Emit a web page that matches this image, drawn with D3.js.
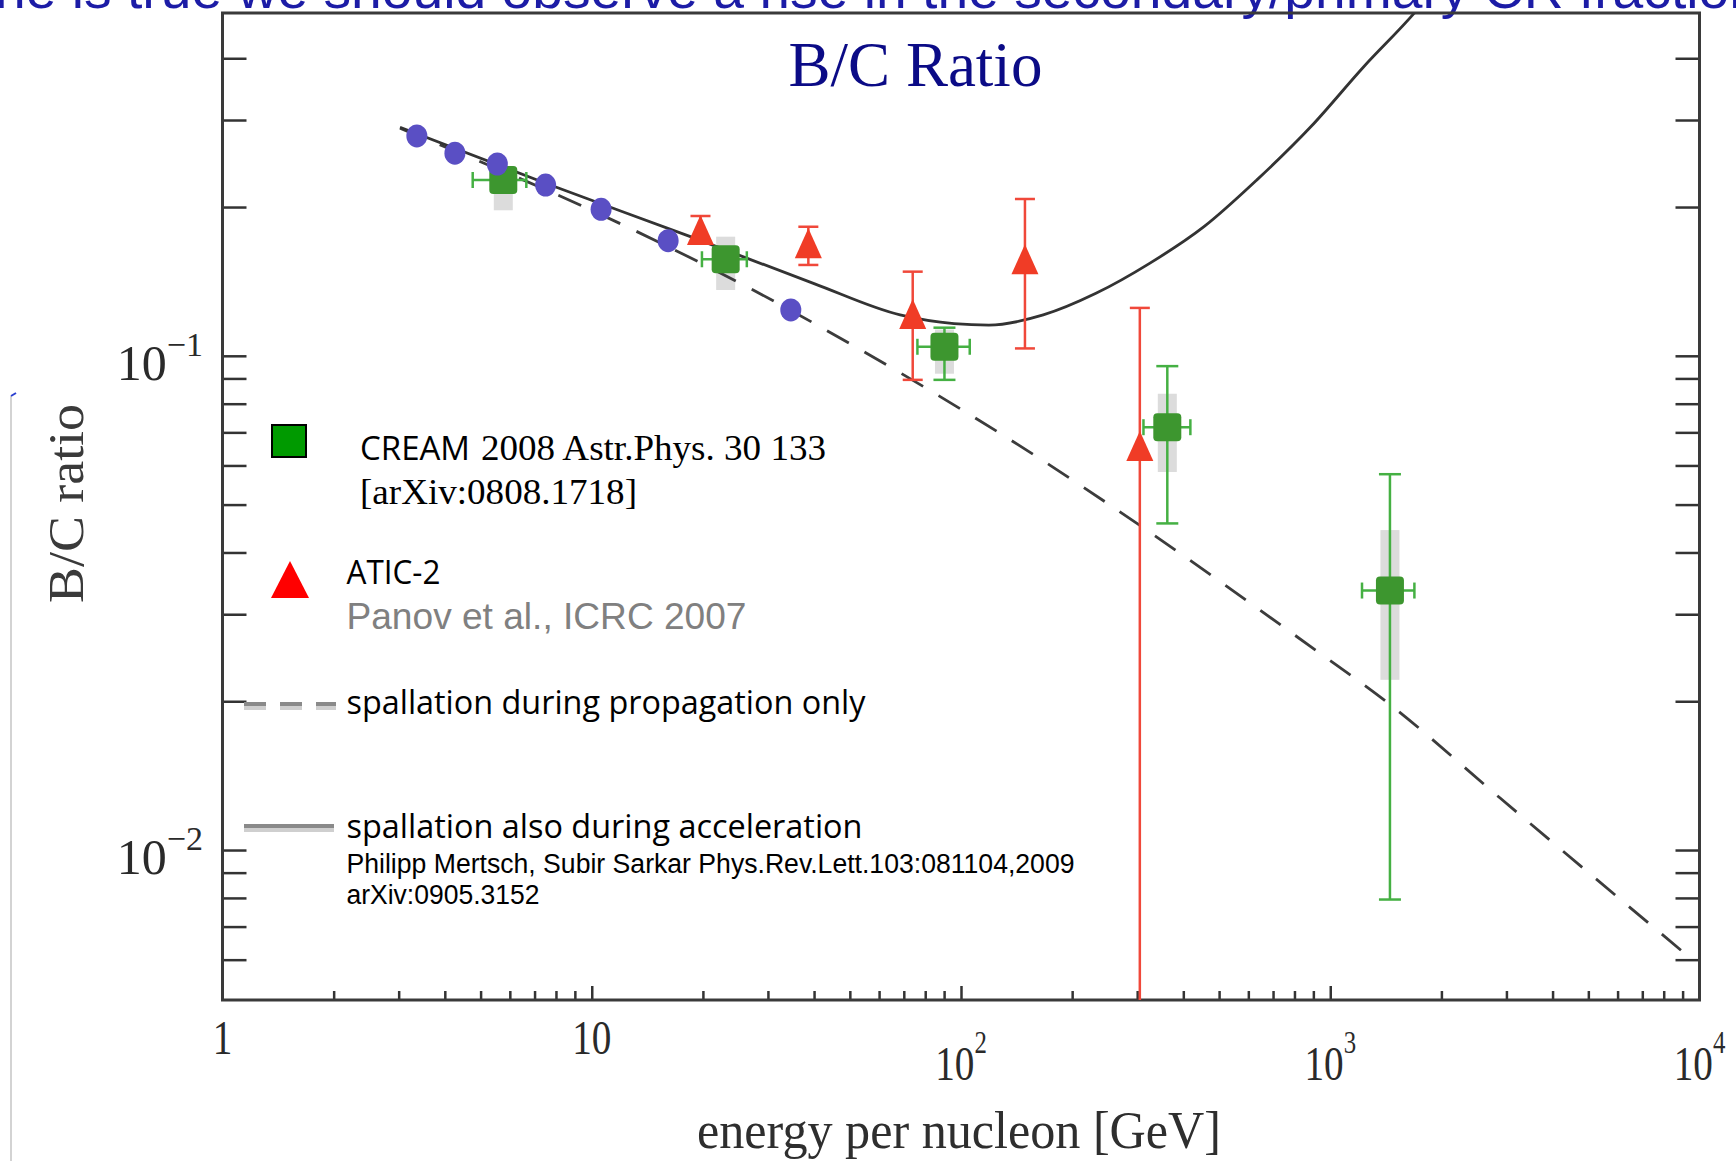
<!DOCTYPE html>
<html lang="en">
  <head>
    <meta charset="utf-8" />
    <title>B/C Ratio</title>
    <script type="text/javascript" src="https://d3js.org/d3.v7.min.js"></script>
    <style type="text/css">
      body { margin: 0; background: #fff; }
      svg { display: block; }
    </style>
  </head>

  <body>
    <script type="text/javascript">
      // blue points (low energy data)
      const blueE = [3.36, 4.26, 5.55, 7.5, 10.6, 16.1, 34.6];
      const blueBC = [0.2785, 0.257, 0.2444, 0.2216, 0.1979, 0.171, 0.1238];

      // CREAM 2008
      const creamE = [5.76, 23.05, 90.2, 362, 1451];
      const creamBC = [0.2269, 0.1568, 0.1043, 0.0717, 0.0335];
      const creamElo = [4.76, 19.88, 76.2, 312, 1219];
      const creamEhi = [6.65, 26.3, 105.6, 418, 1690];
      const creamLo = [0.221, 0.152, 0.0894, 0.0458, 0.00794];
      const creamHi = [0.233, 0.162, 0.114, 0.0953, 0.0576];
      const creamSysLo = [0.197, 0.1359, 0.092, 0.0582, 0.0221];
      const creamSysHi = [0.237, 0.1742, 0.113, 0.0838, 0.0444];

      // ATIC-2
      const aticE = [19.7, 38.6, 74, 149, 305];
      const aticBC = [0.1797, 0.169, 0.1215, 0.1568, 0.0657];
      const aticLo = [0.172, 0.1527, 0.0894, 0.1035, 0.001];
      const aticHi = [0.1918, 0.1824, 0.148, 0.2076, 0.125];

      // model curves
      const propE = [3.025, 12.43, 26.3, 55.5, 174, 306, 891, 1451, 2884, 9660];
      const propBC = [0.2886, 0.1825, 0.138, 0.1012, 0.0601, 0.0453, 0.0257, 0.0197, 0.01274, 0.00596];
      const accE = [3.025, 7.5, 18.5, 40, 68.4, 95.7, 119, 167, 232, 325, 455, 633, 887, 1234, 1686, 2200];
      const accBC = [0.29, 0.2234, 0.1742, 0.14, 0.121, 0.1162, 0.1154, 0.121, 0.1338, 0.154, 0.1825, 0.227, 0.291, 0.385, 0.493, 0.63];

      // ticks
      const xMinor = [2, 3, 4, 5, 6, 7, 8, 9, 20, 30, 40, 50, 60, 70, 80, 90, 200, 300, 400, 500, 600, 700, 800, 900, 2000, 3000, 4000, 5000, 6000, 7000, 8000, 9000];
      const xMajor = [10, 100, 1000];
      const yTicks = [0.006, 0.007, 0.008, 0.009, 0.01, 0.02, 0.03, 0.04, 0.05, 0.06, 0.07, 0.08, 0.09, 0.1, 0.2, 0.3, 0.4];
      const xLabelVals = [1, 10, 100, 1000, 10000];
      const xLabelBase = ["1", "10", "10", "10", "10"];
      const xLabelExp = ["", "", "2", "3", "4"];
      const yLabelVals = [0.1, 0.01];
      const yLabelExp = ["\u22121", "\u22122"];

      const W = 1736, H = 1161;
      const pLeft = 222.5, pRight = 1699.5, pTop = 13, pBottom = 1000;

      const svg = d3.select("body").append("svg")
        .attr("width", W).attr("height", H);

      const x = d3.scaleLog().domain([1, 1e4]).range([pLeft, pRight]);
      const y = d3.scaleLog().domain([0.005, 0.49]).range([998.8, 14.7]);

      // slide text cut off at the top
      svg.append("text")
        .attr("x", -5).attr("y", 8)
        .attr("font-family", "Liberation Sans")
        .attr("font-size", 54)
        .attr("fill", "#1c1ca6")
        .attr("textLength", 1765)
        .attr("lengthAdjust", "spacingAndGlyphs")
        .text("ne is true we should observe a rise in the secondary/primary CR fraction");

      // thin slide line at left
      svg.append("line")
        .attr("x1", 11).attr("x2", 11).attr("y1", 396).attr("y2", H)
        .attr("stroke", "#c4c4c4").attr("stroke-width", 1.5);
      svg.append("line")
        .attr("x1", 11).attr("x2", 16).attr("y1", 396).attr("y2", 393)
        .attr("stroke", "#2a3fd0").attr("stroke-width", 2);

      svg.append("clipPath").attr("id", "plot")
        .append("rect")
        .attr("x", pLeft).attr("y", pTop)
        .attr("width", pRight - pLeft).attr("height", pBottom - pTop);

      // axes ticks
      const axG = svg.append("g");

      const bMinor = d3.axisBottom(x).tickValues(xMinor).tickSize(-9).tickFormat("");
      const bMajor = d3.axisBottom(x).tickValues(xMajor).tickSize(-14).tickFormat("");
      const lAx = d3.axisLeft(y).tickValues(yTicks).tickSize(-24).tickFormat("");
      const rAx = d3.axisRight(y).tickValues(yTicks).tickSize(-24).tickFormat("");

      [
        [bMinor, `translate(0,${pBottom})`],
        [bMajor, `translate(0,${pBottom})`],
        [lAx, `translate(${pLeft},0)`],
        [rAx, `translate(${pRight},0)`],
      ].forEach(function (a) {
        const g = axG.append("g").attr("transform", a[1]).call(a[0]);
        g.select(".domain").remove();
        g.selectAll("line").attr("stroke", "#333").attr("stroke-width", 2.5);
      });

      // frame
      svg.append("rect")
        .attr("x", pLeft).attr("y", pTop)
        .attr("width", pRight - pLeft).attr("height", pBottom - pTop)
        .attr("fill", "none")
        .attr("stroke", "#3a3a3a")
        .attr("stroke-width", 3);

      // tick labels
      xLabelVals.forEach(function (v, i) {
        const base = xLabelExp[i] ? 1079.5 : 1054;
        const t = svg.append("text")
          .attr("transform", `translate(${x(v)},${base}) scale(0.8,1)`)
          .attr("text-anchor", "middle")
          .attr("font-family", "Liberation Serif")
          .attr("font-size", 49)
          .attr("fill", "#2a2a2a");
        t.append("tspan").text(xLabelBase[i]);
        if (xLabelExp[i]) {
          t.append("tspan").attr("dy", -27).attr("font-size", 31).text(xLabelExp[i]);
        }
      });

      yLabelVals.forEach(function (v, i) {
        const t = svg.append("text")
          .attr("x", 203).attr("y", y(v) + 24)
          .attr("text-anchor", "end")
          .attr("font-family", "Liberation Serif")
          .attr("font-size", 50)
          .attr("fill", "#2a2a2a");
        t.append("tspan").text("10");
        t.append("tspan").attr("dy", -24).attr("font-size", 34).text(yLabelExp[i]);
      });

      // axis titles
      svg.append("text")
        .attr("transform", "translate(83,503.5) rotate(-90)")
        .attr("text-anchor", "middle")
        .attr("font-family", "Liberation Serif")
        .attr("font-size", 50)
        .attr("fill", "#3a3a3a")
        .attr("textLength", 199)
        .attr("lengthAdjust", "spacingAndGlyphs")
        .text("B/C ratio");

      svg.append("text")
        .attr("x", 959).attr("y", 1148)
        .attr("text-anchor", "middle")
        .attr("font-family", "Liberation Serif")
        .attr("font-size", 52)
        .attr("fill", "#2e2e2e")
        .attr("textLength", 524)
        .attr("lengthAdjust", "spacingAndGlyphs")
        .text("energy per nucleon [GeV]");

      // chart title
      svg.append("text")
        .attr("x", 915.5).attr("y", 86)
        .attr("text-anchor", "middle")
        .attr("font-family", "Liberation Serif")
        .attr("font-size", 63)
        .attr("fill", "#0b0b86")
        .text("B/C Ratio");

      // data layer
      const plot = svg.append("g").attr("clip-path", "url(#plot)");

      // CREAM systematic boxes
      plot.selectAll("rect.sys")
        .data(creamE)
        .enter()
        .append("rect")
        .attr("class", "sys")
        .attr("x", function (d) { return x(d) - 9.5; })
        .attr("width", 19)
        .attr("y", function (d, i) { return y(creamSysHi[i]); })
        .attr("height", function (d, i) { return y(creamSysLo[i]) - y(creamSysHi[i]); })
        .attr("fill", "#dcdcdc");

      // model curves
      const line = d3.line()
        .x(function (d) { return x(d[0]); })
        .y(function (d) { return y(d[1]); })
        .curve(d3.curveMonotoneX);

      plot.append("path")
        .datum(propE.map(function (e, i) { return [e, propBC[i]]; }))
        .attr("d", line)
        .attr("fill", "none")
        .attr("stroke", "#3c3c3c")
        .attr("stroke-width", 2.8)
        .attr("stroke-dasharray", "25,18");

      plot.append("path")
        .datum(accE.map(function (e, i) { return [e, accBC[i]]; }))
        .attr("d", line)
        .attr("fill", "none")
        .attr("stroke", "#333")
        .attr("stroke-width", 2.8);

      // CREAM error bars
      const green = "#45b043";
      const gBars = plot.append("g").attr("stroke", green).attr("stroke-width", 2.5);
      creamE.forEach(function (e, i) {
        const cx = x(e), cy = y(creamBC[i]);
        gBars.append("line").attr("x1", x(creamElo[i])).attr("x2", x(creamEhi[i])).attr("y1", cy).attr("y2", cy);
        gBars.append("line").attr("x1", x(creamElo[i])).attr("x2", x(creamElo[i])).attr("y1", cy - 8).attr("y2", cy + 8);
        gBars.append("line").attr("x1", x(creamEhi[i])).attr("x2", x(creamEhi[i])).attr("y1", cy - 8).attr("y2", cy + 8);
        gBars.append("line").attr("x1", cx).attr("x2", cx).attr("y1", y(creamHi[i])).attr("y2", y(creamLo[i]));
        gBars.append("line").attr("x1", cx - 11).attr("x2", cx + 11).attr("y1", y(creamHi[i])).attr("y2", y(creamHi[i]));
        gBars.append("line").attr("x1", cx - 11).attr("x2", cx + 11).attr("y1", y(creamLo[i])).attr("y2", y(creamLo[i]));
      });

      plot.selectAll("rect.cream")
        .data(creamE)
        .enter()
        .append("rect")
        .attr("class", "cream")
        .attr("x", function (d) { return x(d) - 14; })
        .attr("y", function (d, i) { return y(creamBC[i]) - 14; })
        .attr("width", 28)
        .attr("height", 28)
        .attr("rx", 4)
        .attr("fill", "#3d962f");

      // blue points, drawn over the squares
      plot.selectAll("ellipse.blue")
        .data(blueE)
        .enter()
        .append("ellipse")
        .attr("class", "blue")
        .attr("cx", function (d) { return x(d); })
        .attr("cy", function (d, i) { return y(blueBC[i]); })
        .attr("rx", 10.5)
        .attr("ry", 11.5)
        .attr("fill", "#5a4fc4");

      // ATIC error bars
      const red = "#f0483a";
      const rBars = plot.append("g").attr("stroke", red).attr("stroke-width", 2.5);
      aticE.forEach(function (e, i) {
        const cx = x(e);
        rBars.append("line").attr("x1", cx).attr("x2", cx).attr("y1", y(aticHi[i])).attr("y2", y(aticLo[i]));
        rBars.append("line").attr("x1", cx - 10).attr("x2", cx + 10).attr("y1", y(aticHi[i])).attr("y2", y(aticHi[i]));
        rBars.append("line").attr("x1", cx - 10).attr("x2", cx + 10).attr("y1", y(aticLo[i])).attr("y2", y(aticLo[i]));
      });

      plot.selectAll("path.atic")
        .data(aticE)
        .enter()
        .append("path")
        .attr("class", "atic")
        .attr("transform", function (d, i) { return `translate(${x(d)},${y(aticBC[i])})`; })
        .attr("d", "M0,-15L13.5,15L-13.5,15Z")
        .attr("fill", "#f03c26");

      // legend
      const leg = svg.append("g");
      leg.append("rect")
        .attr("x", 272).attr("y", 425).attr("width", 34).attr("height", 32)
        .attr("fill", "#009a00").attr("stroke", "#000").attr("stroke-width", 2);
      leg.append("text")
        .attr("x", 360).attr("y", 459.5)
        .attr("font-family", "Open Sans").attr("font-size", 32).attr("fill", "#000")
        .attr("textLength", 110).attr("lengthAdjust", "spacingAndGlyphs")
        .text("CREAM");
      leg.append("text")
        .attr("x", 481).attr("y", 459.5)
        .attr("font-family", "Liberation Serif").attr("font-size", 36).attr("fill", "#000")
        .attr("textLength", 345).attr("lengthAdjust", "spacingAndGlyphs")
        .text("2008 Astr.Phys. 30 133");
      leg.append("text")
        .attr("x", 360).attr("y", 504)
        .attr("font-family", "Liberation Serif").attr("font-size", 36).attr("fill", "#000")
        .attr("textLength", 277).attr("lengthAdjust", "spacingAndGlyphs")
        .text("[arXiv:0808.1718]");

      leg.append("path")
        .attr("d", "M290,561L309,598L271,598Z")
        .attr("fill", "#ff0000");
      leg.append("text")
        .attr("x", 346.5).attr("y", 583.5)
        .attr("font-family", "Open Sans").attr("font-size", 32).attr("fill", "#000")
        .attr("textLength", 94).attr("lengthAdjust", "spacingAndGlyphs")
        .text("ATIC-2");
      leg.append("text")
        .attr("x", 346.5).attr("y", 629)
        .attr("font-family", "Liberation Sans").attr("font-size", 36).attr("fill", "#808080")
        .attr("textLength", 400).attr("lengthAdjust", "spacingAndGlyphs")
        .text("Panov et al., ICRC 2007");

      // dashed sample
      leg.append("line")
        .attr("x1", 244).attr("x2", 336).attr("y1", 708).attr("y2", 708)
        .attr("stroke", "#cfcfcf").attr("stroke-width", 4).attr("stroke-dasharray", "22,14");
      leg.append("line")
        .attr("x1", 244).attr("x2", 336).attr("y1", 704).attr("y2", 704)
        .attr("stroke", "#8a8a8a").attr("stroke-width", 4).attr("stroke-dasharray", "22,14");
      leg.append("text")
        .attr("x", 346.5).attr("y", 714)
        .attr("font-family", "Open Sans").attr("font-size", 32).attr("fill", "#000")
        .attr("textLength", 519).attr("lengthAdjust", "spacingAndGlyphs")
        .text("spallation during propagation only");

      // solid sample
      leg.append("line")
        .attr("x1", 244).attr("x2", 334).attr("y1", 830).attr("y2", 830)
        .attr("stroke", "#cfcfcf").attr("stroke-width", 4);
      leg.append("line")
        .attr("x1", 244).attr("x2", 334).attr("y1", 826).attr("y2", 826)
        .attr("stroke", "#8a8a8a").attr("stroke-width", 4);
      leg.append("text")
        .attr("x", 346.5).attr("y", 838)
        .attr("font-family", "Open Sans").attr("font-size", 32).attr("fill", "#000")
        .attr("textLength", 516).attr("lengthAdjust", "spacingAndGlyphs")
        .text("spallation also during acceleration");
      leg.append("text")
        .attr("x", 346.5).attr("y", 872.5)
        .attr("font-family", "Liberation Sans").attr("font-size", 27).attr("fill", "#000")
        .attr("textLength", 728).attr("lengthAdjust", "spacingAndGlyphs")
        .text("Philipp Mertsch, Subir Sarkar Phys.Rev.Lett.103:081104,2009");
      leg.append("text")
        .attr("x", 346.5).attr("y", 903.5)
        .attr("font-family", "Liberation Sans").attr("font-size", 27).attr("fill", "#000")
        .attr("textLength", 193).attr("lengthAdjust", "spacingAndGlyphs")
        .text("arXiv:0905.3152");
    </script>
  </body>
</html>
